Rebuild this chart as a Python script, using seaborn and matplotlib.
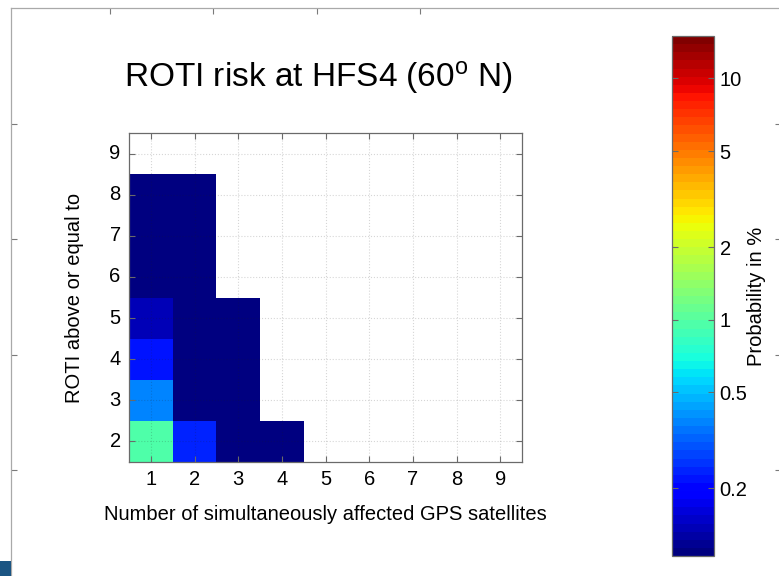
import numpy as np
import pandas as pd
import matplotlib
matplotlib.use("Agg")
import matplotlib.pyplot as plt
from matplotlib.colors import LogNorm
from matplotlib.patches import Rectangle
import seaborn as sns

# ROTI thresholds (rows, top to bottom) and number of affected satellites (columns)
roti_levels = [9, 8, 7, 6, 5, 4, 3, 2]
satellites = [1, 2, 3, 4, 5, 6, 7, 8, 9]

# Probability in % per (ROTI threshold, satellite count); NaN = no occurrence
row_9 = [np.nan] * 9
row_8 = [0.05, 0.03, np.nan, np.nan, np.nan, np.nan, np.nan, np.nan, np.nan]
row_7 = [0.06, 0.04, np.nan, np.nan, np.nan, np.nan, np.nan, np.nan, np.nan]
row_6 = [0.09, 0.05, np.nan, np.nan, np.nan, np.nan, np.nan, np.nan, np.nan]
row_5 = [0.138, 0.07, 0.04, np.nan, np.nan, np.nan, np.nan, np.nan, np.nan]
row_4 = [0.22, 0.08, 0.05, np.nan, np.nan, np.nan, np.nan, np.nan, np.nan]
row_3 = [0.38, 0.09, 0.06, np.nan, np.nan, np.nan, np.nan, np.nan, np.nan]
row_2 = [0.95, 0.237, 0.08, 0.03, np.nan, np.nan, np.nan, np.nan, np.nan]

cbar_ticks = [0.2, 0.5, 1, 2, 5, 10]
cbar_ticklabels = ["0.2", "0.5", "1", "2", "5", "10"]
prob_min, prob_max = 0.105, 15.0

title = r"ROTI risk at HFS4 (60$^{\mathrm{o}}$ N)"
xlabel = "Number of simultaneously affected GPS satellites"
ylabel = "ROTI above or equal to"
cbar_label = "Probability in %"

data = pd.DataFrame(
    [row_9, row_8, row_7, row_6, row_5, row_4, row_3, row_2],
    index=roti_levels, columns=satellites,
)

plt.rcParams["font.family"] = ["Liberation Sans", "DejaVu Sans"]
plt.rcParams["mathtext.fontset"] = "custom"
plt.rcParams["mathtext.rm"] = "Liberation Sans"
plt.rcParams["mathtext.it"] = "Liberation Sans:italic"

W, H = 779, 576
fig = plt.figure(figsize=(W / 100, H / 100), dpi=100)


def px_box(x0, y0, x1, y1):
    return [x0 / W, 1 - y1 / H, (x1 - x0) / W, (y1 - y0) / H]


# Surrounding frame of the enclosing panel
frame_col = "#a9a9a9"
bg = fig.add_axes(px_box(11, 8, 780.5, 700), zorder=-5)
bg.set_xlim(11, 780.5)
bg.set_ylim(700, 8)
bg.set_xticks([110, 213, 317, 420])
bg.set_yticks([124, 239, 355, 470])
bg.tick_params(direction="in", length=4.5, width=0.8, color="#7a7a7a",
               top=True, bottom=False, left=True, right=True,
               labelbottom=False, labelleft=False)
for s in bg.spines.values():
    s.set_color(frame_col)
    s.set_linewidth(0.9)
bg.patch.set_alpha(0)
fig.patches.append(Rectangle((0, 0), 11 / W, 15 / H, transform=fig.transFigure,
                             facecolor="#1b5583", edgecolor="none"))

ax = fig.add_axes(px_box(129, 133, 522, 462))
cax = fig.add_axes(px_box(672, 36, 714, 556))

cmap = plt.get_cmap("jet", 64)
sns.heatmap(data, ax=ax, cbar_ax=cax, cmap=cmap,
            norm=LogNorm(vmin=prob_min, vmax=prob_max), linewidths=0)

# Main axes styling
spine_col = "#6a6a6a"
fs = 14.5
for s in ax.spines.values():
    s.set_visible(True)
    s.set_color(spine_col)
    s.set_linewidth(0.9)
ax.set_xticklabels([str(v) for v in satellites], rotation=0)
ax.set_yticklabels([str(v) for v in roti_levels], rotation=0)
ax.tick_params(direction="in", length=4.5, width=0.8, color=spine_col,
               top=True, right=True, labelsize=fs, pad=6)
ax.grid(True, linestyle=":", linewidth=0.8, color="#202020", alpha=0.18)
ax.set_axisbelow(False)
ax.set_xlabel(xlabel, fontsize=fs, labelpad=11)
ax.set_ylabel(ylabel, fontsize=fs, labelpad=18)

fig.text(318.5 / W, 1 - 87 / H, title, ha="center", va="baseline", fontsize=24)

# Colorbar styling
cb = ax.collections[0].colorbar
cb.set_ticks(cbar_ticks)
cb.set_ticklabels(cbar_ticklabels)
cb.ax.minorticks_off()
cb.outline.set_visible(True)
cb.outline.set_edgecolor(spine_col)
cb.outline.set_linewidth(0.9)
cb.ax.tick_params(direction="in", length=4.5, width=0.8, color=spine_col,
                  left=True, right=True, labelsize=fs, pad=4)
cb.set_label(cbar_label, fontsize=fs, labelpad=0)

fig.savefig("out.png", dpi=100)
